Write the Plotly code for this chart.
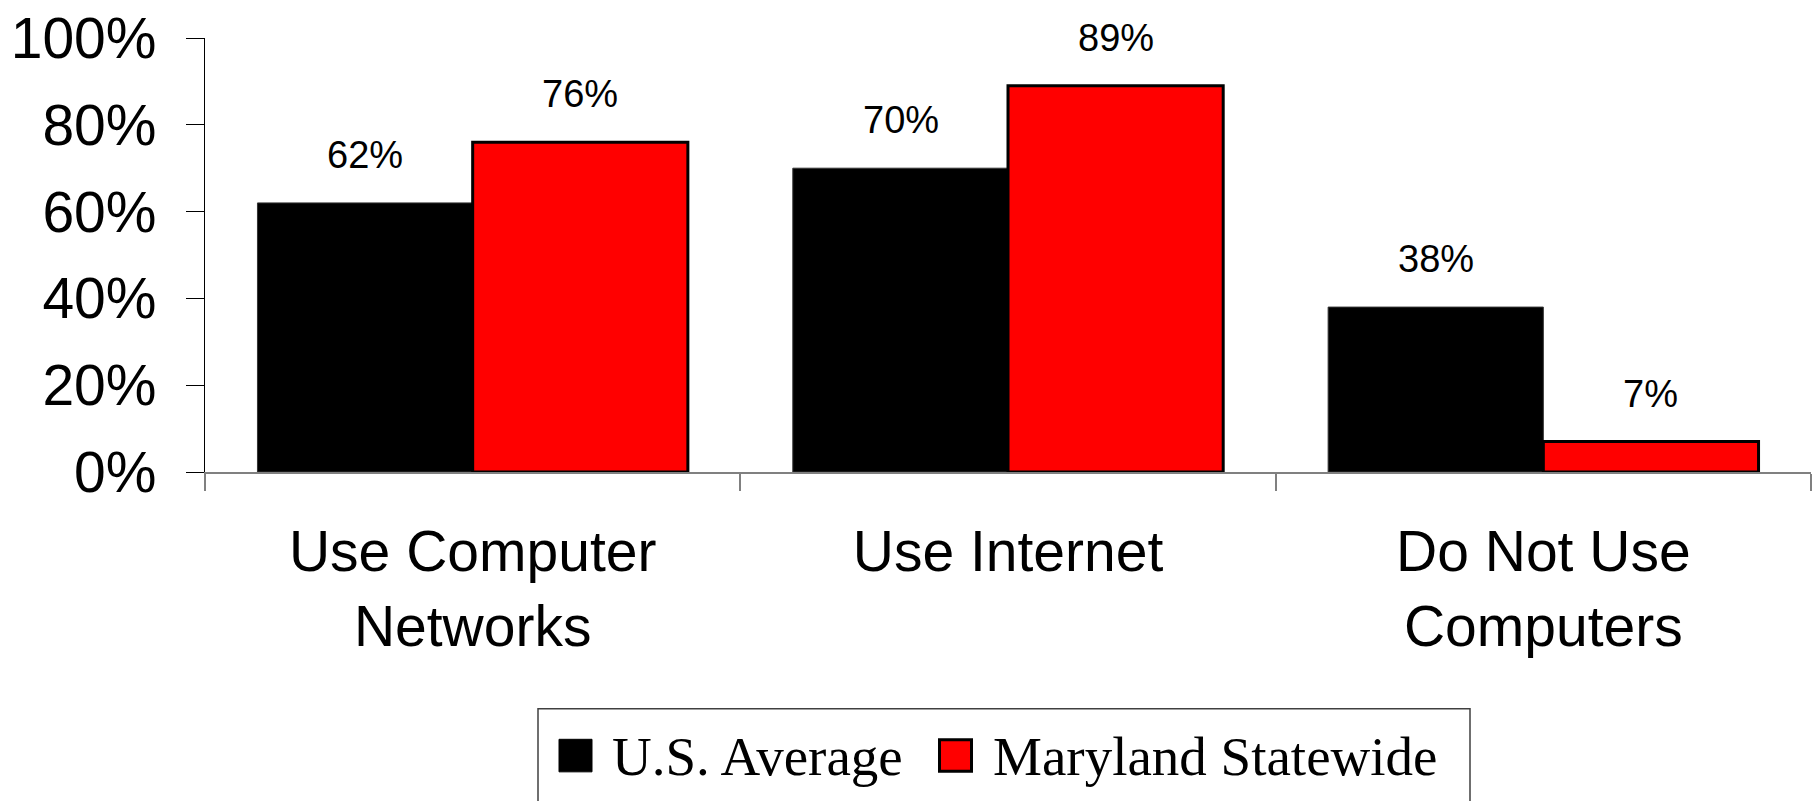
import plotly.graph_objects as go

categories = ["Use Computer<br>Networks", "Use Internet", "Do Not Use<br>Computers"]
us_average = [62, 70, 38]
maryland = [76, 89, 7]
series_names = ["U.S. Average", "Maryland Statewide"]
y_ticks = [0, 20, 40, 60, 80, 100]
y_tick_labels = ["0%", "20%", "40%", "60%", "80%", "100%"]

W, H = 1817, 801
L, R, T, B = 205, 1811, 32, 472


def px_x(px):
    return (px - L) / (R - L)


def px_y(py):
    return (B - py) / (B - T)


SANS = "Liberation Sans, Arial, sans-serif"
SERIF = "Liberation Serif, Times New Roman, serif"

fig = go.Figure()
fig.add_trace(go.Bar(x=categories, y=us_average, name=series_names[0],
                     marker=dict(color="#000000", line=dict(color="#333333", width=1)),
                     showlegend=False))
fig.add_trace(go.Bar(x=categories, y=maryland, name=series_names[1],
                     marker=dict(color="#FF0000", line=dict(color="#000000", width=3)),
                     showlegend=False))

annotations = []
half = 107.5
for cat, v in zip(categories, us_average):
    annotations.append(dict(x=cat, y=v, xref="x", yref="y", text=f"{v}%", showarrow=False,
                            xshift=-half, yshift=25, yanchor="bottom",
                            font=dict(family=SANS, size=38, color="#000000")))
for cat, v in zip(categories, maryland):
    annotations.append(dict(x=cat, y=v, xref="x", yref="y", text=f"{v}%", showarrow=False,
                            xshift=half, yshift=25, yanchor="bottom",
                            font=dict(family=SANS, size=38, color="#000000")))

# manual legend
shapes = [
    dict(type="rect", xref="paper", yref="paper", x0=px_x(538), x1=px_x(1470),
         y0=px_y(712), y1=px_y(812), line=dict(color="#404040", width=1.5),
         fillcolor="rgba(0,0,0,0)", layer="above"),
    dict(type="rect", xref="paper", yref="paper", x0=px_x(559), x1=px_x(592),
         y0=px_y(743), y1=px_y(776), line=dict(color="#000000", width=1),
         fillcolor="#000000"),
    dict(type="rect", xref="paper", yref="paper", x0=px_x(939.5), x1=px_x(971.5),
         y0=px_y(743.5), y1=px_y(775.5), line=dict(color="#000000", width=3),
         fillcolor="#FF0000"),
]
annotations.append(dict(x=px_x(610), y=px_y(760), xref="paper", yref="paper",
                        text=series_names[0], showarrow=False, xanchor="left", yanchor="middle",
                        font=dict(family=SERIF, size=55, color="#000000")))
annotations.append(dict(x=px_x(991), y=px_y(760), xref="paper", yref="paper",
                        text=series_names[1], showarrow=False, xanchor="left", yanchor="middle",
                        font=dict(family=SERIF, size=55, color="#000000")))

fig.update_layout(
    width=W, height=H,
    margin=dict(l=L, r=W - R, t=T, b=H - B, pad=0),
    paper_bgcolor="#FFFFFF", plot_bgcolor="#FFFFFF",
    barmode="group", bargap=0.196, bargroupgap=0,
    annotations=annotations, shapes=shapes,
    showlegend=False,
)
fig.update_xaxes(
    showline=True, linecolor="#808080", linewidth=2,
    ticks="outside", tickson="boundaries", ticklen=17, tickcolor="#808080", tickwidth=1.5,
    tickfont=dict(family=SANS, size=57, color="#000000"),
    ticklabelstandoff=29, showgrid=False, zeroline=False,
)
fig.update_yaxes(
    range=[0, 100], tickvals=y_ticks, ticktext=y_tick_labels,
    showline=True, linecolor="#000000", linewidth=1.2,
    ticks="outside", ticklen=18, tickcolor="#000000", tickwidth=1.2,
    tickfont=dict(family=SANS, size=57, color="#000000"),
    ticklabelstandoff=18, ticklabeloverflow="allow", showgrid=False, zeroline=False,
)

fig.write_html("out.html", config={"displayModeBar": False},
               post_script="document.body.style.margin='0';")
